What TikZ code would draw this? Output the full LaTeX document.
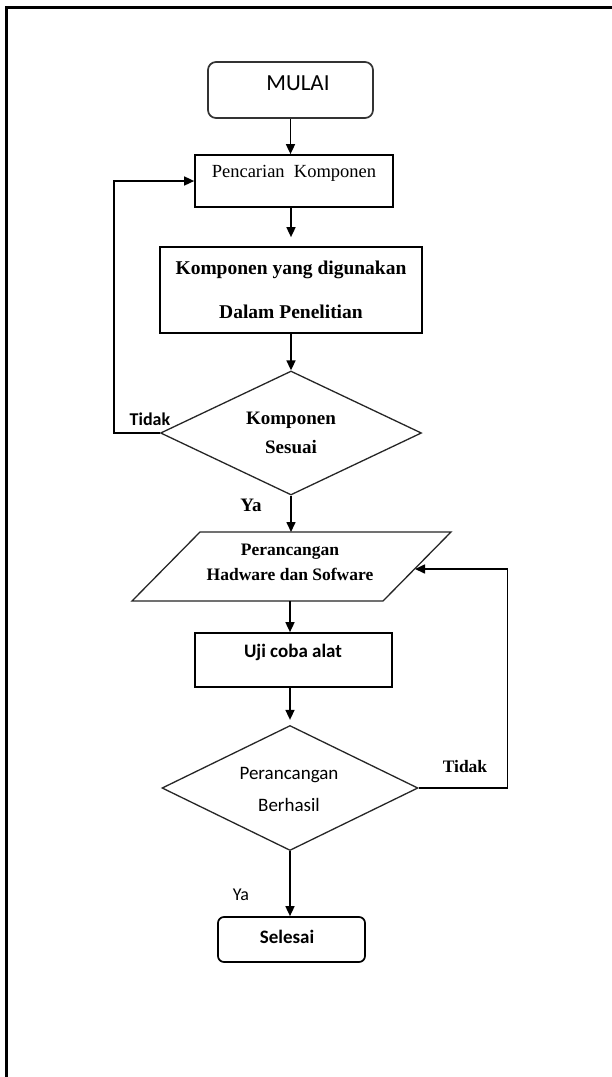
\documentclass[tikz,border=0pt]{standalone}
\usepackage{fontspec}
\setmainfont{Liberation Serif}
\newfontfamily\calfont{Carlito}
\usetikzlibrary{arrows.meta,shapes.geometric}
\tikzset{
  box/.style={draw=black, line width=1.7pt, rectangle, inner sep=0pt},
  dia/.style={draw=black!85, line width=1.3pt, diamond, inner sep=0pt},
  arr/.style={-{Triangle[length=10pt,width=9pt]}, line width=1.6pt},
  serifb/.style={font=\bfseries\fontsize{19}{22}\selectfont, inner sep=0pt},
  sansr/.style={font=\calfont\fontsize{19}{22}\selectfont, inner sep=0pt},
  sansb/.style={font=\calfont\bfseries\fontsize{19}{22}\selectfont, inner sep=0pt}
}
\begin{document}
\begin{tikzpicture}[x=1pt,y=-1pt]
\useasboundingbox (0,0) rectangle (612,1077);
\fill[white] (0,0) rectangle (612,1077);
% frame
\draw[line width=3pt] (612,7) -- (6,7) -- (6,1077);

% MULAI
\node[box, draw=black!80, rounded corners=8pt, minimum width=165pt, minimum height=56pt] (mulai) at (290.5,90) {};
\node[font=\calfont\fontsize{23}{26}\selectfont, inner sep=0pt] (tmulai) at (298,83) {MULAI};

% Pencarian Komponen
\node[box, minimum width=198pt, minimum height=52pt] (cari) at (294,181) {};
\node[font=\fontsize{18.5}{22}\selectfont, inner sep=0pt] (tcari) at (294,173) {Pencarian\ \ Komponen};

% Komponen yang digunakan
\node[box, minimum width=262pt, minimum height=86pt] (komp) at (291,290) {};
\node[serifb, align=center, font=\bfseries\fontsize{19.5}{44}\selectfont] (tkomp) at (291,290) {Komponen yang digunakan\\Dalam Penelitian};

% Diamond 1
\node[dia, minimum width=261pt, minimum height=124pt] (d1) at (291,433) {};
\node[serifb, align=center, font=\bfseries\fontsize{19}{29}\selectfont] (td1) at (291,433) {Komponen\\Sesuai};
\node[font=\calfont\bfseries\fontsize{18}{20}\selectfont, inner sep=0pt] (tidak1) at (150,419) {Tidak};
\node[serifb] (ya1) at (251,505) {Ya};

% Parallelogram
\coordinate (ptop) at (291,532);
\coordinate (pbot) at (290,601);
\coordinate (pright) at (415,569);
\draw[draw=black!85, line width=1.3pt] (132,601) -- (383,601) -- (451,532) -- (200,532) -- cycle;
\node[align=center, inner sep=0pt, font=\bfseries\fontsize{17.5}{25}\selectfont] (tpar) at (290,562.5) {Perancangan\\Hadware dan Sofware};

% Uji coba alat
\node[box, minimum width=197pt, minimum height=54pt] (uji) at (293.5,660) {};
\node[sansb] (tuji) at (293,652) {Uji coba alat};

% Diamond 2
\node[dia, minimum width=256pt, minimum height=125pt] (d2) at (290,788) {};
\node[sansr, align=center, font=\calfont\fontsize{19}{32}\selectfont] (td2) at (289,789) {Perancangan\\Berhasil};
\node[font=\bfseries\fontsize{17.5}{20}\selectfont, inner sep=0pt] (tidak2) at (465,767) {Tidak};
\node[font=\calfont\fontsize{18}{20}\selectfont, inner sep=0pt] (ya2) at (241,895) {Ya};

% Selesai
\node[box, rounded corners=6pt, minimum width=147pt, minimum height=45pt] (selesai) at (291.5,939.5) {};
\node[sansb] (tsel) at (287,937) {Selesai};

% connectors
\draw[arr] (mulai.south) -- (mulai.south |- cari.north);
\draw[arr, shorten >=9pt] (cari.south -| komp.north) -- (komp.north);
\draw[arr] (komp.south) -- (d1.north);
\draw[arr] (d1.west) -- ++(-46,0) |- (cari.west);
\draw[arr] (d1.south) -- (ptop);
\draw[arr] (pbot) -- (pbot |- uji.north);
\draw[arr, shorten >=5pt] (uji.south -| d2.north) -- (d2.north);
\draw[arr] (d2.east) -- ++(89,0) |- (pright);
\draw[arr] (d2.south) -- (d2.south |- selesai.north);
\end{tikzpicture}
\end{document}
